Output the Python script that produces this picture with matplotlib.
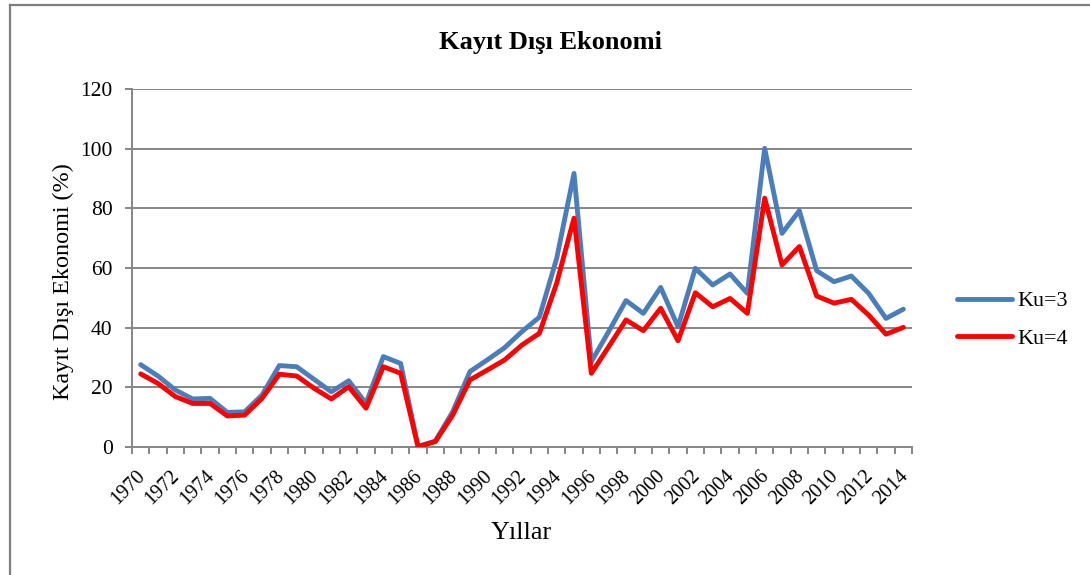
import matplotlib
matplotlib.use("Agg")
import matplotlib.pyplot as plt
import matplotlib.transforms as mtransforms
from matplotlib.lines import Line2D

years = list(range(1970, 2015))
ku3 = [27.6, 23.8, 19.1, 16.1, 16.3, 11.6, 11.8, 17.4, 27.3, 26.9,
       22.7, 18.5, 22.2, 14.6, 30.3, 28.0, 0.2, 2.0, 11.8, 25.3,
       29.2, 33.3, 38.7, 43.5, 63.2, 91.7, 28.6, 38.7, 49.1, 44.8,
       53.5, 40.3, 59.9, 54.3, 58.0, 51.5, 100.1, 71.6, 79.2, 59.1,
       55.4, 57.3, 51.5, 43.1, 46.2]
ku4 = [24.5, 21.3, 16.9, 14.6, 14.6, 10.4, 10.7, 16.3, 24.4, 23.8,
       19.7, 16.1, 20.2, 13.0, 26.9, 24.7, 0.1, 1.8, 10.7, 22.5,
       25.8, 29.2, 34.2, 38.1, 54.9, 76.7, 24.7, 33.6, 42.6, 39.0,
       46.5, 35.6, 51.7, 47.0, 49.8, 44.8, 83.4, 61.0, 67.2, 50.6,
       48.2, 49.5, 44.2, 37.8, 40.1]
series_labels = ["Ku=3", "Ku=4"]
yticks = [0, 20, 40, 60, 80, 100, 120]

plt.rcParams['font.family'] = ['Liberation Serif', 'DejaVu Serif']

W, H = 1090, 575
fig = plt.figure(figsize=(W / 100, H / 100), dpi=100)
ax = fig.add_axes([132 / W, 1 - 447 / H, (912 - 132) / W, (447 - 89) / H])

grey = '#868686'
idx = list(range(len(years)))
ax.plot(idx, ku3, color='#4A7EBB', lw=3.5, solid_joinstyle='round',
        solid_capstyle='round', label=series_labels[0], zorder=3)
ax.plot(idx, ku4, color='#FF0000', lw=3.5, solid_joinstyle='round',
        solid_capstyle='round', label=series_labels[1], zorder=4)

ax.set_xlim(-0.5, len(years) - 0.5)
ax.set_ylim(0, 120)
ax.set_yticks(yticks)
ax.set_yticklabels([str(v) for v in yticks])
ax.yaxis.grid(True, color=grey, lw=1.4)
ax.set_axisbelow(True)

# category boundary tick marks (major), labels on minor ticks
ax.set_xticks([i - 0.5 for i in range(len(years) + 1)])
ax.set_xticklabels([])
ax.set_xticks(idx[::2], minor=True)
ax.set_xticklabels([str(y) for y in years[::2]], minor=True,
                   rotation=45, ha='right', va='top', rotation_mode='anchor')
ax.tick_params(axis='x', which='major', length=5, width=1.4, color=grey)
ax.tick_params(axis='x', which='minor', length=0, pad=14, labelsize=14.5)
ax.tick_params(axis='y', length=5, width=1.4, color=grey, pad=9, labelsize=15.5)

offset = mtransforms.ScaledTranslation(-5 / 100, 0, fig.dpi_scale_trans)
for lab in ax.get_xticklabels(minor=True):
    lab.set_transform(lab.get_transform() + offset)

for s in ['top', 'right']:
    ax.spines[s].set_visible(False)
for s in ['left', 'bottom']:
    ax.spines[s].set_color(grey)
    ax.spines[s].set_linewidth(1.4)

fig.text(551 / W, 1 - 42 / H, "Kayıt Dışı Ekonomi", ha='center', va='center',
         fontsize=19, fontweight='bold')
fig.text(63 / W, 1 - 282 / H, "Kayıt Dışı Ekonomi (%)", ha='center', va='center',
         rotation=90, fontsize=17.4)
fig.text(521 / W, 1 - 533 / H, "Yıllar", ha='center', va='center', fontsize=18.8)

ax.legend(loc='center left', bbox_to_anchor=(957 / W, 1 - 320 / H),
          bbox_transform=fig.transFigure, frameon=False, fontsize=15.8,
          handlelength=2.5, handletextpad=0.25, labelspacing=0.8,
          borderpad=0, borderaxespad=0)

# chart area border
fig.add_artist(Line2D([10 / W, 10 / W], [0, 1 - 5 / H], color='#7f7f7f', lw=1.6,
                      transform=fig.transFigure))
fig.add_artist(Line2D([10 / W, 1], [1 - 5 / H, 1 - 5 / H], color='#7f7f7f', lw=1.6,
                      transform=fig.transFigure))

fig.savefig("out.png", dpi=100)
